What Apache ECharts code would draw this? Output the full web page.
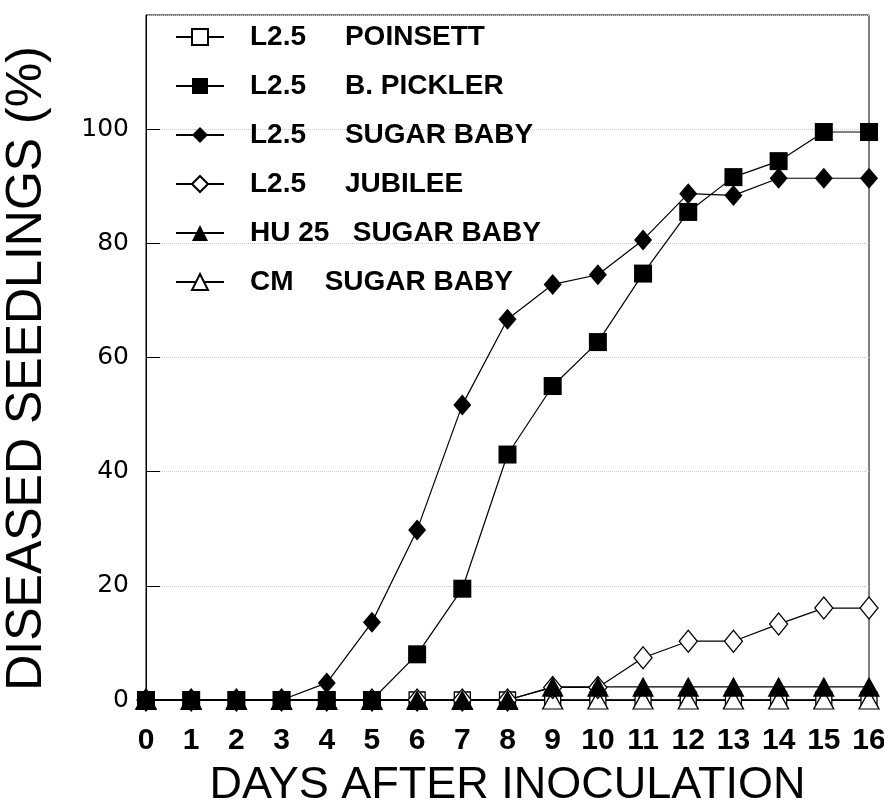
<!DOCTYPE html>
<html>
<head>
	<meta charset="UTF-8">
	<title>Diseased seedlings</title>
	<script src="https://cdn.jsdelivr.net/npm/echarts@6/dist/echarts.min.js"></script>
</head>
<body style="margin:0; background:#fff;">
	<div id="main" style="width: 884px; height: 807px;"></div>
	<script>
		// days after inoculation
		var days = [0, 1, 2, 3, 4, 5, 6, 7, 8, 9, 10, 11, 12, 13, 14, 15, 16]
		// % diseased seedlings
		var poinsett   = [0, 0, 0, 0, 0, 0, 0, 0, 0, 0, 0, 0, 0, 0, 0, 0, 0]
		var pickler    = [0, 0, 0, 0, 0, 0, 8, 19.5, 43, 55, 62.7, 74.7, 85.5, 91.6, 94.4, 99.5, 99.5]
		var sugarBaby  = [0, 0, 0, 0, 3, 13.6, 29.8, 51.7, 66.7, 72.8, 74.5, 80.6, 88.7, 88.4, 91.4, 91.4, 91.4]
		var jubilee    = [0, 0, 0, 0, 0, 0, 0, 0, 0, 2.2, 2.2, 7.4, 10.3, 10.3, 13.3, 16.1, 16.1]
		var hu25       = [0, 0, 0, 0, 0, 0, 0, 0, 0, 2.3, 2.3, 2.3, 2.3, 2.3, 2.3, 2.3, 2.3]
		var cmSugar    = [0, 0, 0, 0, 0, 0, 0, 0, 0, 0, 0, 0, 0, 0, 0, 0, 0]

		var names = [
			'L2.5     POINSETT',
			'L2.5     B. PICKLER',
			'L2.5     SUGAR BABY',
			'L2.5     JUBILEE',
			'HU 25   SUGAR BABY',
			'CM    SUGAR BABY'
		]

		function pairs (vals) {
			var out = []
			for (var i = 0; i < days.length; i++) {
				out.push([days[i], vals[i]])
			}
			return out
		}

		// one line series, black line, marker filled or open
		function makeSeries (name, vals, symbol, size, filled) {
			return {
				name: name,
				type: 'line',
				data: pairs(vals),
				symbol: symbol,
				symbolSize: size,
				showAllSymbol: true,
				clip: false,
				lineStyle: {color: '#000', width: 1.2},
				itemStyle: {
					color: filled ? '#000' : '#fff',
					borderColor: '#000',
					borderWidth: filled ? 0 : 1.3
				},
				emphasis: {disabled: true}
			}
		}

		var font = '"Liberation Sans", Arial, Helvetica, sans-serif'

		var myChart = echarts.init(document.getElementById('main'))

		var option = {
			backgroundColor: '#fff',
			animation: false,
			grid: {
				left: 146,
				right: 15,
				top: 15,
				bottom: 107,
				outerBoundsMode: 'none',
				containLabel: false,
				show: true,
				borderColor: '#000',
				borderWidth: 1
			},
			legend: {
				data: names,
				orient: 'vertical',
				left: 175,
				top: 23,
				padding: 0,
				itemWidth: 48,
				itemHeight: 20,
				itemGap: 21,
				textStyle: {
					fontFamily: font,
					fontSize: 28,
					fontWeight: 'bold',
					color: '#000',
					lineHeight: 20,
					padding: [0, 0, 0, 21]
				},
				selectedMode: false
			},
			xAxis: {
				type: 'value',
				min: 0,
				max: 16,
				interval: 1,
				name: 'DAYS AFTER INOCULATION',
				nameLocation: 'middle',
				nameGap: 63,
				nameTextStyle: {fontFamily: font, fontSize: 45, color: '#000'},
				axisLine: {show: true, lineStyle: {color: '#000'}},
				axisTick: {show: false},
				splitLine: {show: false},
				axisLabel: {
					fontFamily: font,
					fontSize: 30,
					fontWeight: 'bold',
					color: '#000',
					margin: 26
				}
			},
			yAxis: {
				type: 'value',
				min: 0,
				max: 120,
				interval: 20,
				name: 'DISEASED SEEDLINGS (%)',
				nameLocation: 'middle',
				nameGap: 94,
				nameTextStyle: {fontFamily: font, fontSize: 50, color: '#000', padding: [0, 22, 0, 0]},
				axisLine: {show: true, lineStyle: {color: '#000'}},
				axisTick: {show: true, inside: true, length: 14, lineStyle: {color: '#000'}},
				splitLine: {show: true, lineStyle: {color: '#c8c8c8', type: 'dotted', width: 1}},
				axisLabel: {
					fontFamily: '"DejaVu Sans", sans-serif',
					fontSize: 25,
					color: '#000',
					margin: 17,
					showMaxLabel: false
				}
			},
			series: [
				makeSeries(names[0], poinsett, 'rect', 16, false),
				makeSeries(names[5], cmSugar, 'triangle', [20, 18], false),
				makeSeries(names[3], jubilee, 'diamond', [18, 22], false),
				makeSeries(names[4], hu25, 'triangle', [22, 20], true),
				makeSeries(names[1], pickler, 'rect', 18, true),
				makeSeries(names[2], sugarBaby, 'diamond', [18, 21], true)
			]
		}
		myChart.setOption(option)
	</script>
</body>
</html>
